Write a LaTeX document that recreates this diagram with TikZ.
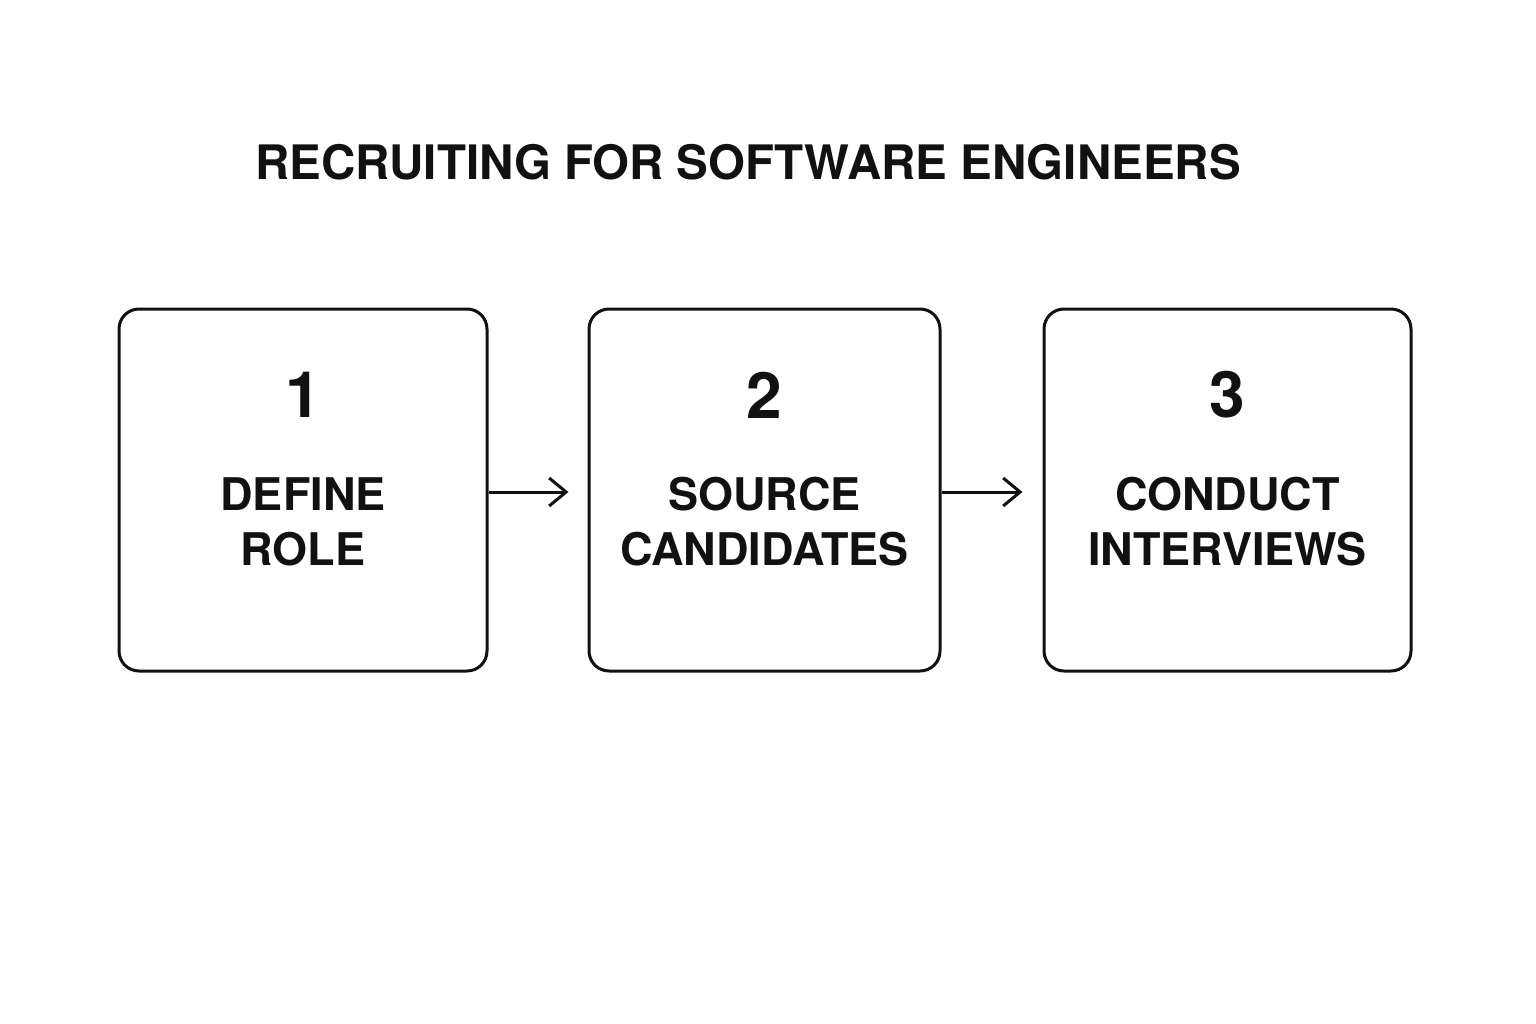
\documentclass[tikz,border=0pt]{standalone}
\usepackage{fontspec}
\setmainfont{TeX Gyre Heros}
\usetikzlibrary{arrows.meta}
\definecolor{ink}{HTML}{111111}
\begin{document}
\begin{tikzpicture}[x=1pt,y=-1pt,
  stepbox/.style={draw=ink,line width=3pt,rounded corners=20pt,minimum height=362pt,inner sep=0pt},
  num/.style={text=ink,inner sep=0pt,font=\fontsize{64}{70}\selectfont\bfseries},
  lbl/.style={text=ink,inner sep=0pt,align=center,font=\fontsize{45}{55}\selectfont\bfseries},
  flow/.style={draw=ink,line width=3pt,-{Straight Barb[length=17pt,width=28pt,line width=3pt]}}]
\useasboundingbox (0,0) rectangle (1536,1024);
\fill[white] (0,0) rectangle (1536,1024);
\node[text=ink,inner sep=0pt,font=\fontsize{47.5}{55}\selectfont\bfseries] (title) at (748,162) {RECRUITING FOR SOFTWARE ENGINEERS};
\node[stepbox,minimum width=368pt] (b1) at (303,490) {};
\node[stepbox,minimum width=351pt] (b2) at (764.5,490) {};
\node[stepbox,minimum width=367pt] (b3) at (1227.5,490) {};
\node[num] (n1) at (303,395) {1};
\node[num] (n2) at (764.5,395) {2};
\node[num] (n3) at (1227.5,395) {3};
\node[lbl] (l1) at (303,521.5) {DEFINE\\ROLE};
\node[lbl] (l2) at (764.5,521.5) {SOURCE\\CANDIDATES};
\node[lbl] (l3) at (1227.5,521.5) {CONDUCT\\INTERVIEWS};
\draw[flow,shorten >=19pt] (b1.east |- 0,492) -- (b2.west |- 0,492);
\draw[flow,shorten >=20pt] (b2.east |- 0,492) -- (b3.west |- 0,492);
\end{tikzpicture}
\end{document}
